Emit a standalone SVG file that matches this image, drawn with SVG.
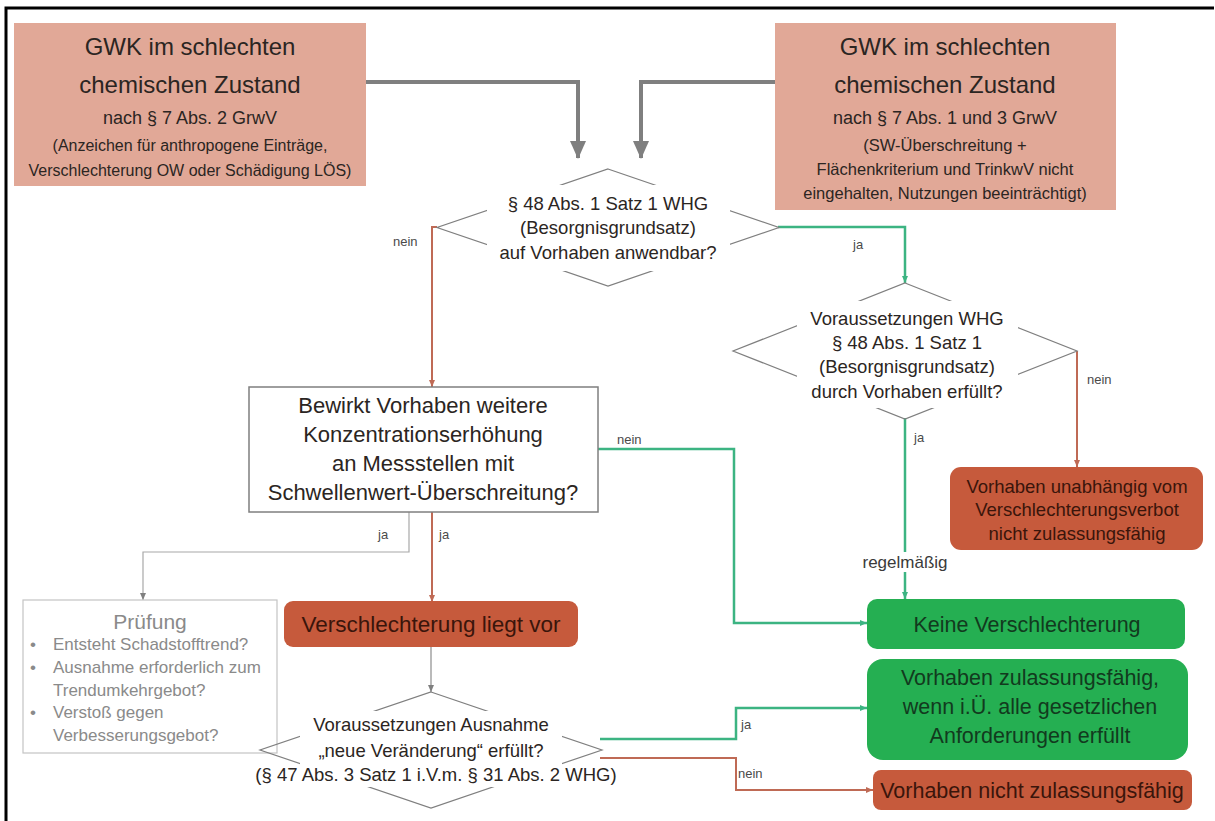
<svg xmlns="http://www.w3.org/2000/svg" width="1215" height="821" viewBox="0 0 1215 821">
<style>
text{font-family:"Liberation Sans",Arial,sans-serif;text-anchor:middle}
.salmon{fill:#E1A897}
.redbox{fill:#C65A3C}
.greenbox{fill:#25AF52}
.dia{fill:none;stroke:#7f7f7f;stroke-width:1.2}
.mask{fill:#fff}
.t-dark{fill:#2b2522}
.t-red{fill:#3a150b}
.t-green{fill:#123a1e}
.t-grey{fill:#8a8a8a}
.lbl{font-size:13px;fill:#4a4a4a}
.c-big{fill:none;stroke:#7f7f7f;stroke-width:4}
.c-red{fill:none;stroke:#BF6A55;stroke-width:2}
.c-green{fill:none;stroke:#3CB482;stroke-width:2.5}
.c-grey{fill:none;stroke:#8c8c8c;stroke-width:1.2}
.c-lgrey{fill:none;stroke:#a8a8a8;stroke-width:1.2}
</style>
<defs>
<marker id="aBig" markerUnits="userSpaceOnUse" markerWidth="18" markerHeight="16" refX="17" refY="8" orient="auto"><path d="M0,0 L18,8 L0,16 z" fill="#7f7f7f"/></marker>
<marker id="aRed" markerUnits="userSpaceOnUse" markerWidth="7" markerHeight="6" refX="7" refY="3" orient="auto"><path d="M0,0 L7,3 L0,6 z" fill="#BF6A55"/></marker>
<marker id="aGreen" markerUnits="userSpaceOnUse" markerWidth="7" markerHeight="6" refX="7" refY="3" orient="auto"><path d="M0,0 L7,3 L0,6 z" fill="#3CB482"/></marker>
<marker id="aGrey" markerUnits="userSpaceOnUse" markerWidth="7" markerHeight="6" refX="7" refY="3" orient="auto"><path d="M0,0 L7,3 L0,6 z" fill="#7f7f7f"/></marker>
</defs>
<rect width="1215" height="821" fill="#fff"/>
<path d="M6,822 V8 H1214" fill="none" stroke="#000" stroke-width="3"/>

<g id="connectors">
<path class="c-big" d="M366,82 H578 V158" marker-end="url(#aBig)"/>
<path class="c-big" d="M775,82 H641 V158" marker-end="url(#aBig)"/>
<path class="c-red" d="M437,227 H432 V387" marker-end="url(#aRed)"/>
<path class="c-green" d="M778,227 H905 V283" marker-end="url(#aGreen)"/>
<path class="c-red" d="M1077,351 V467" marker-end="url(#aRed)"/>
<path class="c-green" d="M905,418 V599" marker-end="url(#aGreen)"/>
<path class="c-green" d="M598,449 H734 V623 H867" marker-end="url(#aGreen)"/>
<path class="c-lgrey" d="M409,512 V552 H143 V600" marker-end="url(#aGrey)"/>
<path class="c-red" d="M432,512 V602" marker-end="url(#aRed)"/>
<path class="c-grey" d="M431,647 V692" marker-end="url(#aGrey)"/>
<path class="c-green" d="M600,739 H736 V708 H867" marker-end="url(#aGreen)"/>
<path class="c-red" d="M600,758 H736 V790 H873" marker-end="url(#aRed)"/>
<rect x="858" y="552" width="96" height="20" class="mask"/>
<text x="393" y="246" class="lbl" text-anchor="start" style="text-anchor:start">nein</text>
<text x="853" y="249" class="lbl" style="text-anchor:start">ja</text>
<text x="1087" y="384" class="lbl" style="text-anchor:start">nein</text>
<text x="914" y="442" class="lbl" style="text-anchor:start">ja</text>
<text x="905" y="568" style="font-size:17px;fill:#3a3a3a">regelmäßig</text>
<text x="617" y="444" class="lbl" style="text-anchor:start">nein</text>
<text x="378" y="539" class="lbl" style="text-anchor:start">ja</text>
<text x="439" y="539" class="lbl" style="text-anchor:start">ja</text>
<text x="741" y="729" class="lbl" style="text-anchor:start">ja</text>
<text x="738" y="778" class="lbl" style="text-anchor:start">nein</text>
</g>

<g id="box-left-top">
<rect x="14" y="23" width="352" height="163" class="salmon"/>
<text x="190" y="55" class="t-dark" font-size="24">GWK im schlechten</text>
<text x="190" y="93" class="t-dark" font-size="24">chemischen Zustand</text>
<text x="190" y="124" class="t-dark" font-size="18">nach § 7 Abs. 2 GrwV</text>
<text x="190" y="151" class="t-dark" font-size="16">(Anzeichen für anthropogene Einträge,</text>
<text x="190" y="176" class="t-dark" font-size="16">Verschlechterung OW oder Schädigung LÖS)</text>
</g>

<g id="box-right-top">
<rect x="775" y="23" width="341" height="187" class="salmon"/>
<text x="945" y="55" class="t-dark" font-size="24">GWK im schlechten</text>
<text x="945" y="93" class="t-dark" font-size="24">chemischen Zustand</text>
<text x="945" y="124" class="t-dark" font-size="18">nach § 7 Abs. 1 und 3 GrwV</text>
<text x="945" y="151" class="t-dark" font-size="16.5">(SW-Überschreitung +</text>
<text x="945" y="175" class="t-dark" font-size="16.5">Flächenkriterium und TrinkwV nicht</text>
<text x="945" y="199" class="t-dark" font-size="16.5">eingehalten, Nutzungen beeinträchtigt)</text>
</g>

<g id="diamond-top">
<polygon class="dia" points="608,169 779,227.5 608,286 437,227.5"/>
<rect class="mask" x="487" y="185" width="243" height="86"/>
<text x="608" y="210" class="t-dark" font-size="18.5">§ 48 Abs. 1 Satz 1 WHG</text>
<text x="608" y="234" class="t-dark" font-size="18.5">(Besorgnisgrundsatz)</text>
<text x="608" y="259" class="t-dark" font-size="18.5">auf Vorhaben anwendbar?</text>
</g>

<g id="diamond-right">
<polygon class="dia" points="905,283 1077,351 905,419 733,351"/>
<rect class="mask" x="797" y="301" width="221" height="107"/>
<text x="907" y="325" class="t-dark" font-size="18.5">Voraussetzungen WHG</text>
<text x="907" y="349" class="t-dark" font-size="18.5">§ 48 Abs. 1 Satz 1</text>
<text x="907" y="373" class="t-dark" font-size="18.5">(Besorgnisgrundsatz)</text>
<text x="907" y="398" class="t-dark" font-size="18.5">durch Vorhaben erfüllt?</text>
</g>

<g id="box-bewirkt">
<rect x="249" y="387" width="349" height="125" fill="#fff" stroke="#7f7f7f" stroke-width="1.5"/>
<text x="423" y="413" class="t-dark" font-size="22">Bewirkt Vorhaben weitere</text>
<text x="423" y="442" class="t-dark" font-size="22">Konzentrationserhöhung</text>
<text x="423" y="471" class="t-dark" font-size="22">an Messstellen mit</text>
<text x="423" y="500" class="t-dark" font-size="22">Schwellenwert-Überschreitung?</text>
</g>

<g id="box-unabhaengig">
<rect x="950" y="467" width="253" height="83" rx="11" class="redbox"/>
<text x="1077" y="493" class="t-red" font-size="18.5">Vorhaben unabhängig vom</text>
<text x="1077" y="516" class="t-red" font-size="18.5">Verschlechterungsverbot</text>
<text x="1077" y="540" class="t-red" font-size="18.5">nicht zulassungsfähig</text>
</g>

<g id="box-pruefung">
<rect x="23" y="600" width="254" height="153" fill="#fff" stroke="#c4c4c4" stroke-width="1.2"/>
<text x="150" y="629" class="t-grey" font-size="21">Prüfung</text>
<g class="t-grey" font-size="17" style="text-anchor:start">
<text x="30" y="650" style="text-anchor:start">•</text>
<text x="53" y="650" style="text-anchor:start">Entsteht Schadstofftrend?</text>
<text x="30" y="673" style="text-anchor:start">•</text>
<text x="53" y="673" style="text-anchor:start">Ausnahme erforderlich zum</text>
<text x="53" y="696" style="text-anchor:start">Trendumkehrgebot?</text>
<text x="30" y="718" style="text-anchor:start">•</text>
<text x="53" y="718" style="text-anchor:start">Verstoß gegen</text>
<text x="53" y="741" style="text-anchor:start">Verbesserungsgebot?</text>
</g>
</g>

<g id="box-verschlechterung">
<rect x="284" y="601" width="294" height="46" rx="9" class="redbox"/>
<text x="431" y="632" class="t-red" font-size="22.5">Verschlechterung liegt vor</text>
</g>

<g id="diamond-bottom">
<polygon class="dia" points="431,692 602,750 431,808 260,750"/>
<rect class="mask" x="300" y="711" width="262" height="76"/>
<text x="431" y="731" class="t-dark" font-size="18.5">Voraussetzungen Ausnahme</text>
<text x="431" y="757" class="t-dark" font-size="18.5">„neue Veränderung“ erfüllt?</text>
<text x="436" y="781" class="t-dark" font-size="18.5">(§ 47 Abs. 3 Satz 1 i.V.m. § 31 Abs. 2 WHG)</text>
</g>

<g id="box-keine">
<rect x="867" y="599" width="318" height="50" rx="10" class="greenbox"/>
<text x="1027" y="632" class="t-green" font-size="21.5">Keine Verschlechterung</text>
</g>

<g id="box-zulassungsfaehig">
<rect x="867" y="659" width="321" height="101" rx="16" class="greenbox"/>
<text x="1030" y="685" class="t-green" font-size="21.5">Vorhaben zulassungsfähig,</text>
<text x="1030" y="714" class="t-green" font-size="21.5">wenn i.Ü. alle gesetzlichen</text>
<text x="1030" y="743" class="t-green" font-size="21.5">Anforderungen erfüllt</text>
</g>

<g id="box-nicht-zulassungsfaehig">
<rect x="873" y="770" width="319" height="40" rx="8" class="redbox"/>
<text x="1032" y="798" class="t-red" font-size="21.5">Vorhaben nicht zulassungsfähig</text>
</g>
</svg>
